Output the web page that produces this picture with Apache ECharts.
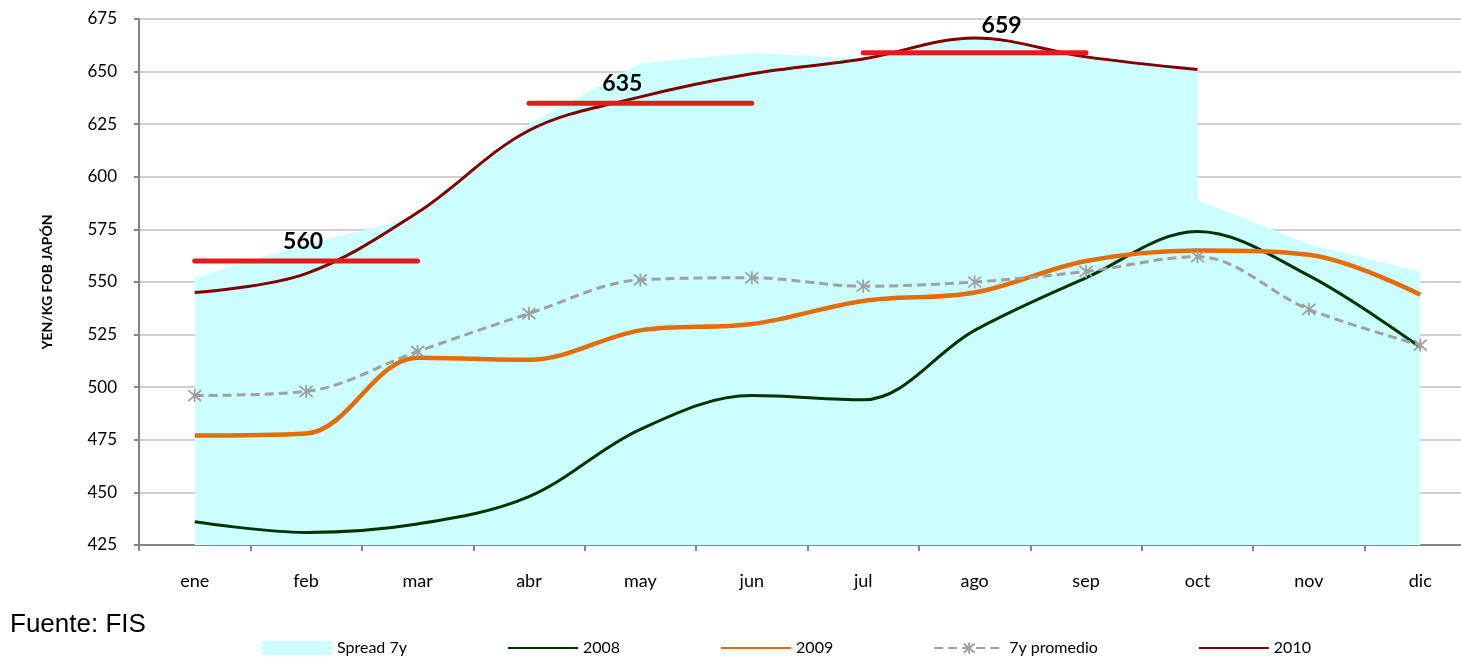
<!DOCTYPE html>
<html>
<head>
<meta charset="utf-8">
<script src="https://cdn.jsdelivr.net/npm/echarts@6/dist/echarts.min.js"></script>
<style>
    html, body { margin: 0; padding: 0; background: #fff; overflow: hidden; }
    #chart { width: 1476px; height: 658px; }
</style>
</head>
<body>
<div id="chart"></div>
<script>
    // datos
    var months = ['ene', 'feb', 'mar', 'abr', 'may', 'jun', 'jul', 'ago', 'sep', 'oct', 'nov', 'dic'];
    var yTicks = [425, 450, 475, 500, 525, 550, 575, 600, 625, 650, 675];

    var spreadTop = [552, 568, 581, 625, 654, 659, 656, 666, 658, 651, null, null];
    var spreadTail = [null, null, null, null, null, null, null, null, null, 589, 568, 555];
    var s2008 = [436, 431, 435, 448, 480, 496, 494, 527, 552, 574, 553, 519];
    var s2009 = [477, 478, 514, 513, 527, 530, 541, 545, 560, 565, 563, 544];
    var prom7y = [496, 498, 517, 535, 551, 552, 548, 550, 555, 562, 537, 520];
    var s2010 = [545, 554, 583, 622, 638, 649, 656, 666, 657, 651, null, null];

    // promedios trimestrales 2010 (meses de inicio y fin)
    var qAvg = [560, 635, 659];
    var qStart = ['ene', 'abr', 'jul'];
    var qEnd = ['mar', 'jun', 'sep'];
    var qLabelOffset = [[-3, 0], [-18, 0], [27, -8]];

    var font = 'Lato, "Open Sans", sans-serif';
    var myChart = echarts.init(document.getElementById('chart'));

    var starPath = 'path://M0,0L10,10M10,0L0,10M5,-1L5,11';

    function quarterSeries(i) {
        var a = months.indexOf(qStart[i]), b = months.indexOf(qEnd[i]);
        var mid = Math.round((a + b) / 2);
        var data = months.map(function (m, k) {
            if (k < a || k > b) return null;
            if (k === mid) {
                return {
                    value: qAvg[i],
                    label: { show: true, offset: qLabelOffset[i] }
                };
            }
            return qAvg[i];
        });
        return {
            name: 'q' + i,
            type: 'line',
            data: data,
            symbol: 'circle',
            symbolSize: 0.1,
            showSymbol: true,
            z: 10,
            silent: true,
            lineStyle: { color: '#e41a1c', width: 5, cap: 'round' },
            itemStyle: { color: '#e41a1c' },
            label: {
                show: false,
                position: 'top',
                distance: 8,
                color: '#000',
                fontFamily: font,
                fontWeight: 'bold',
                fontSize: 23
            }
        };
    }

    var option = {
        animation: false,
        textStyle: { fontFamily: font },
        grid: { left: 139, top: 19, bottom: 113, right: 0 },
        graphic: [{
            type: 'text',
            left: 10,
            top: 612,
            style: { text: 'Fuente: FIS', fontFamily: 'Liberation Sans, Arial, sans-serif', fontSize: 26, fill: '#000' }
        }],
        legend: {
            left: 257,
            top: 635,
            itemWidth: 70,
            itemHeight: 14,
            itemGap: 100,
            textStyle: { fontFamily: font, fontSize: 16, color: '#000' },
            data: [
                { name: 'Spread 7y', icon: 'rect', itemStyle: { color: '#ccffff' } },
                { name: '2008', itemStyle: { opacity: 0 } },
                { name: '2009', itemStyle: { opacity: 0 } },
                { name: '7y promedio' },
                { name: '2010', itemStyle: { opacity: 0 } }
            ]
        },
        xAxis: {
            type: 'category',
            data: months,
            boundaryGap: true,
            axisLine: { lineStyle: { color: '#868686', width: 2 } },
            axisTick: { show: true, length: 6, lineStyle: { color: '#868686', width: 2 } },
            axisLabel: { color: '#000', fontSize: 18, fontFamily: font, margin: 27 },
            splitLine: { show: false }
        },
        yAxis: {
            type: 'value',
            min: yTicks[0],
            max: yTicks[yTicks.length - 1],
            interval: 25,
            name: 'YEN/KG FOB JAPÓN',
            nameLocation: 'middle',
            nameRotate: 90,
            nameGap: 85,
            nameTextStyle: { color: '#000', fontWeight: 'bold', fontSize: 14, fontFamily: font },
            axisLine: { show: true, lineStyle: { color: '#868686', width: 2 } },
            axisTick: { show: true, length: 5, lineStyle: { color: '#868686', width: 2 } },
            axisLabel: { color: '#000', fontSize: 17, fontFamily: font, margin: 22 },
            splitLine: { lineStyle: { color: '#c0c0c0', width: 1.5 } }
        },
        series: [
            {
                name: 'Spread 7y',
                type: 'line',
                data: spreadTop,
                symbol: 'none',
                color: '#ccffff',
                lineStyle: { width: 0 },
                areaStyle: { color: '#ccffff', opacity: 1, origin: 'start' },
                z: 1
            },
            {
                name: 'Spread 7y',
                type: 'line',
                data: spreadTail,
                symbol: 'none',
                color: '#ccffff',
                lineStyle: { width: 0 },
                areaStyle: { color: '#ccffff', opacity: 1, origin: 'start' },
                z: 1
            },
            {
                name: '2008',
                type: 'line',
                data: s2008,
                smooth: 0.35,
                symbol: 'none',
                color: '#003300',
                lineStyle: { color: '#003300', width: 3 },
                z: 3
            },
            {
                name: '2009',
                type: 'line',
                data: s2009,
                smooth: 0.35,
                symbol: 'none',
                color: '#e46c0a',
                lineStyle: { color: '#e46c0a', width: 4.5 },
                z: 4
            },
            {
                name: '7y promedio',
                type: 'line',
                data: prom7y,
                smooth: 0.35,
                symbol: starPath,
                symbolSize: 13,
                color: '#a0a0a0',
                itemStyle: { color: 'none', borderColor: '#a0a0a0', borderWidth: 1.8 },
                lineStyle: { color: '#a0a0a0', width: 3, type: [9, 5] },
                z: 5
            },
            {
                name: '2010',
                type: 'line',
                data: s2010,
                smooth: 0.35,
                symbol: 'none',
                color: '#7f0000',
                lineStyle: { color: '#7f0000', width: 3 },
                z: 6
            },
            quarterSeries(0),
            quarterSeries(1),
            quarterSeries(2)
        ]
    };
    myChart.setOption(option);
</script>
</body>
</html>
